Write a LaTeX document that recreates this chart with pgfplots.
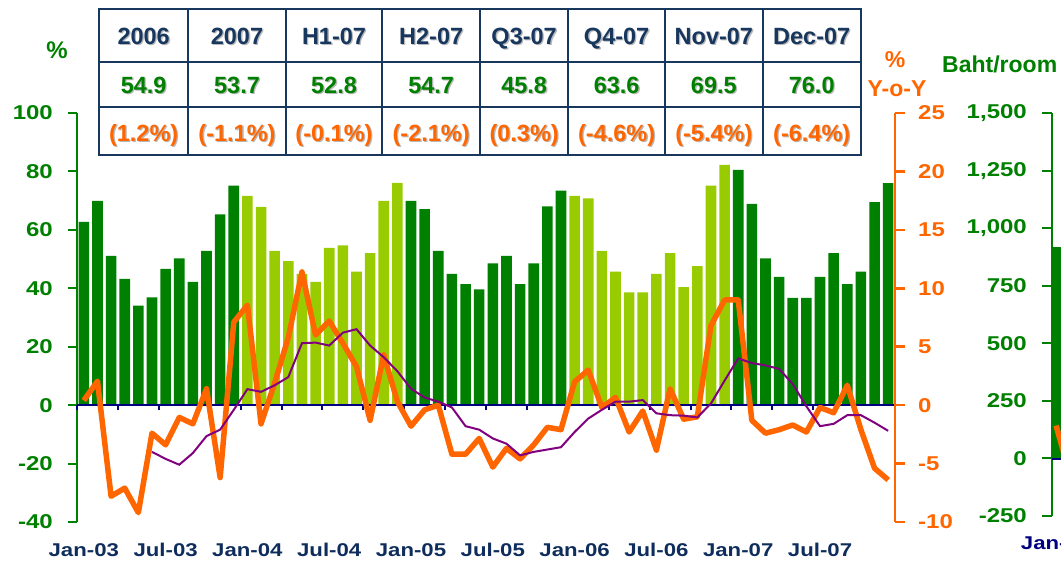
\documentclass[border=0pt]{standalone}
\usepackage{fontspec}
\setmainfont{Liberation Sans}
\newfontfamily\stretchfont[FakeStretch=1.2]{Liberation Sans}
\usepackage{pgfplots}
\usepackage{pgfplotstable}
\pgfplotsset{compat=1.18}

\definecolor{dkgreen}{HTML}{008000}
\definecolor{ltgreen}{HTML}{99CC00}
\definecolor{orng}{HTML}{FF6600}
\definecolor{purp}{HTML}{800080}
\definecolor{navyline}{HTML}{000080}
\definecolor{tblnavy}{HTML}{17375E}
\definecolor{lblnavy}{HTML}{0F2D5C}

\newcommand{\tfont}{\stretchfont\bfseries\fontsize{20}{20}\selectfont}
\newcommand{\xfont}{\stretchfont\bfseries\fontsize{18.5}{18.5}\selectfont}
\newcommand{\cellfont}{\bfseries\fontsize{23.5}{24}\selectfont}

\pgfplotstableread{
x occ yoy ma
0 62.7 0.4 nan
1 69.9 2.05 nan
2 51.1 -7.8 nan
3 43.2 -7.1 nan
4 34.1 -9.2 nan
5 36.9 -2.4 -4.0
6 46.6 -3.4 -4.6
7 50.2 -1.05 -5.1
8 42.2 -1.6 -4.1
9 52.8 1.4 -2.65
10 65.3 -6.2 -2.1
11 75.1 7.1 -0.4
12 71.6 8.56 1.37
13 67.9 -1.6 1.14
14 52.8 1.9 1.7
15 49.3 5.8 2.4
16 44.9 11.4 5.3
17 42.2 6.0 5.35
18 53.8 7.2 5.1
19 54.7 5.3 6.2
20 45.7 3.3 6.5
21 52.0 -1.3 5.1
22 69.9 4.3 4.1
23 76.1 0.3 2.9
24 69.9 -1.8 1.4
25 67.1 -0.4 0.65
26 52.8 0.0 0.3
27 44.9 -4.2 -0.2
28 41.4 -4.2 -1.8
29 39.6 -2.85 -2.1
30 48.5 -5.3 -2.85
31 51.1 -3.7 -3.3
32 41.4 -4.6 -4.3
33 48.5 -3.4 -4.0
34 68.0 -1.9 -3.8
35 73.4 -2.1 -3.6
36 71.6 2.0 -2.3
37 70.8 3.0 -1.15
38 52.8 -0.2 -0.4
39 45.7 0.66 0.3
40 38.6 -2.3 0.3
41 38.6 -0.5 0.43
42 44.9 -3.85 -0.7
43 52.0 1.4 -0.86
44 40.4 -1.2 -0.9
45 47.6 -1.0 -1.05
46 75.1 6.8 0.14
47 82.2 9.0 2.1
48 80.5 9.0 4.0
49 68.9 -1.3 3.6
50 50.2 -2.4 3.4
51 43.9 -2.1 3.1
52 36.7 -1.7 1.8
53 36.7 -2.3 -0.1
54 43.9 -0.2 -1.8
55 52.0 -0.65 -1.6
56 41.4 1.7 -0.86
57 45.7 -2.1 -0.86
58 69.5 -5.4 -1.5
59 76.0 -6.4 -2.2
}\occdata

\newcommand{\shtext}[4]{%
  \node[anchor=base, text=black!28, inner sep=0pt, font=\cellfont] at (#1+1.3,#2-1.3) {#4};
  \node[anchor=base, text=#3, inner sep=0pt, font=\cellfont] at (#1,#2) {#4};}

\begin{document}
\begin{tikzpicture}[x=1pt,y=1pt]
\useasboundingbox (0,0) rectangle (1061,561);

% ---------- bars, left axis ----------
\begin{axis}[
  at={(77pt,39pt)}, anchor=south west,
  scale only axis, width=818pt, height=409pt,
  xmin=-0.5, xmax=59.5, ymin=-40, ymax=100,
  axis y line*=left, axis x line*=bottom,
  y axis line style={dkgreen, line width=2pt},
  x axis line style={draw=none},
  ytick={-40,-20,0,20,40,60,80,100},
  yticklabels={-40,-20,0,20,40,60,80,100},
  xtick={0,6,...,54},
  xticklabels={Jan-03,Jul-03,Jan-04,Jul-04,Jan-05,Jul-05,Jan-06,Jul-06,Jan-07,Jul-07},
  tick align=outside, major tick length=9pt,
  y tick style={dkgreen, line width=2pt},
  x tick style={draw=none},
  yticklabel style={font=\tfont, text=dkgreen, inner sep=0pt, anchor=east, xshift=-15pt},
  xticklabel style={font=\xfont, text=lblnavy, inner sep=0pt, anchor=base, yshift=-26pt},
]
\addplot[ybar, bar width=10.6pt, fill=dkgreen, draw=none, restrict x to domain=-0.5:11.5] table[x=x,y=occ]{\occdata};
\addplot[ybar, bar width=10.6pt, fill=ltgreen, draw=none, restrict x to domain=11.5:23.5] table[x=x,y=occ]{\occdata};
\addplot[ybar, bar width=10.6pt, fill=dkgreen, draw=none, restrict x to domain=23.5:35.5] table[x=x,y=occ]{\occdata};
\addplot[ybar, bar width=10.6pt, fill=ltgreen, draw=none, restrict x to domain=35.5:47.5] table[x=x,y=occ]{\occdata};
\addplot[ybar, bar width=10.6pt, fill=dkgreen, draw=none, restrict x to domain=47.5:59.5] table[x=x,y=occ]{\occdata};
\end{axis}

% ---------- zero line with month ticks ----------
\begin{axis}[
  at={(77pt,39pt)}, anchor=south west,
  scale only axis, width=818pt, height=409pt,
  xmin=-0.5, xmax=59.5, ymin=-40, ymax=100,
  axis x line*=middle, axis y line=none,
  x axis line style={navyline, line width=2.5pt},
  xtick={-0.5,2.5,...,59.5}, xticklabels={},
  ytick=\empty,
  tick align=center, major tick length=5pt,
  x tick style={navyline, line width=2pt, yshift=-2.5pt},
]
\end{axis}

% ---------- Y-o-Y lines, right axis ----------
\begin{axis}[
  at={(77pt,39pt)}, anchor=south west,
  scale only axis, width=818pt, height=409pt,
  xmin=-0.5, xmax=59.5, ymin=-10, ymax=25,
  axis y line*=right, axis x line=none,
  y axis line style={orng, line width=2.5pt},
  ytick={-10,-5,0,5,10,15,20,25},
  yticklabels={-10,-5,0,5,10,15,20,25},
  tick align=outside, major tick length=10pt,
  y tick style={orng, line width=2.5pt},
  yticklabel style={font=\tfont, text=orng, inner sep=0pt, anchor=west, xshift=13pt},
]
\addplot[orng, line width=5.5pt, line join=round] table[x=x,y=yoy]{\occdata};
\addplot[purp, line width=2pt, unbounded coords=jump] table[x=x,y=ma]{\occdata};
\end{axis}

% ---------- second chart (cut at the right edge) ----------
\begin{axis}[
  at={(1052pt,45.2pt)}, anchor=south west,
  scale only axis, width=9pt, height=402.5pt,
  xmin=-0.3, xmax=0.36, ymin=-250, ymax=1500,
  axis y line*=left, axis x line*=bottom,
  y axis line style={dkgreen, line width=2pt},
  x axis line style={draw=none},
  ytick={-250,0,250,500,750,1000,1250,1500},
  yticklabels={-250,0,250,500,750,{1,000},{1,250},{1,500}},
  xtick={0}, xticklabels={Jan-03},
  tick align=outside, major tick length=10pt,
  y tick style={dkgreen, line width=2pt},
  x tick style={draw=none},
  yticklabel style={font=\tfont, text=dkgreen, inner sep=0pt, anchor=east, xshift=-15pt},
  xticklabel style={font=\xfont, text=navyline, inner sep=0pt, anchor=base, yshift=-24pt},
  extra y ticks={0}, extra y tick labels={},
  extra y tick style={grid=major, major grid style={navyline, line width=2.5pt}, tick style={draw=none}},
]
\addplot[ybar, bar width=10.6pt, fill=dkgreen, draw=none] coordinates {(0,918)};
\addplot[orng, line width=5.5pt] coordinates {(0,142) (1,-68)};
\end{axis}

% ---------- axis captions ----------
\node[font=\bfseries\fontsize{24}{24}\selectfont, text=dkgreen] at (57,511) {\%};
\node[font=\bfseries\fontsize{23}{23}\selectfont, text=orng] at (895,501) {\%};
\node[font=\bfseries\fontsize{23}{23}\selectfont, text=orng] at (897,472.5) {Y-o-Y};
\node[font=\bfseries\fontsize{23}{23}\selectfont, text=dkgreen, anchor=base west, inner sep=0pt] at (942,488.3) {Baht/room};

% ---------- summary table ----------
\fill[white] (99,406) rectangle (860.7,552);
\foreach \cx/\h/\v/\p in {143.65/2006/54.9/(1.2\%), 237/2007/53.7/(-1.1\%), 334/H1-07/52.8/(-0.1\%), 431.15/H2-07/54.7/(-2.1\%), 524.15/Q3-07/45.8/(0.3\%), 616.65/Q4-07/63.6/(-4.6\%), 713.85/Nov-07/69.5/(-5.4\%), 811.7/Dec-07/76.0/(-6.4\%)} {
  \shtext{\cx}{516.7}{tblnavy}{\h}
  \shtext{\cx}{467.7}{dkgreen}{\v}
  \shtext{\cx}{419.3}{orng}{\p}
}
\foreach \x in {188.3,285.7,382.3,480,568.3,665,762.7} \draw[tblnavy, line width=2.3pt] (\x,406) -- (\x,552);
\foreach \y in {499.3,454.3} \draw[tblnavy, line width=2.3pt] (99,\y) -- (860.7,\y);
\draw[tblnavy, line width=2.3pt] (99,406) rectangle (860.7,552);
\end{tikzpicture}
\end{document}
